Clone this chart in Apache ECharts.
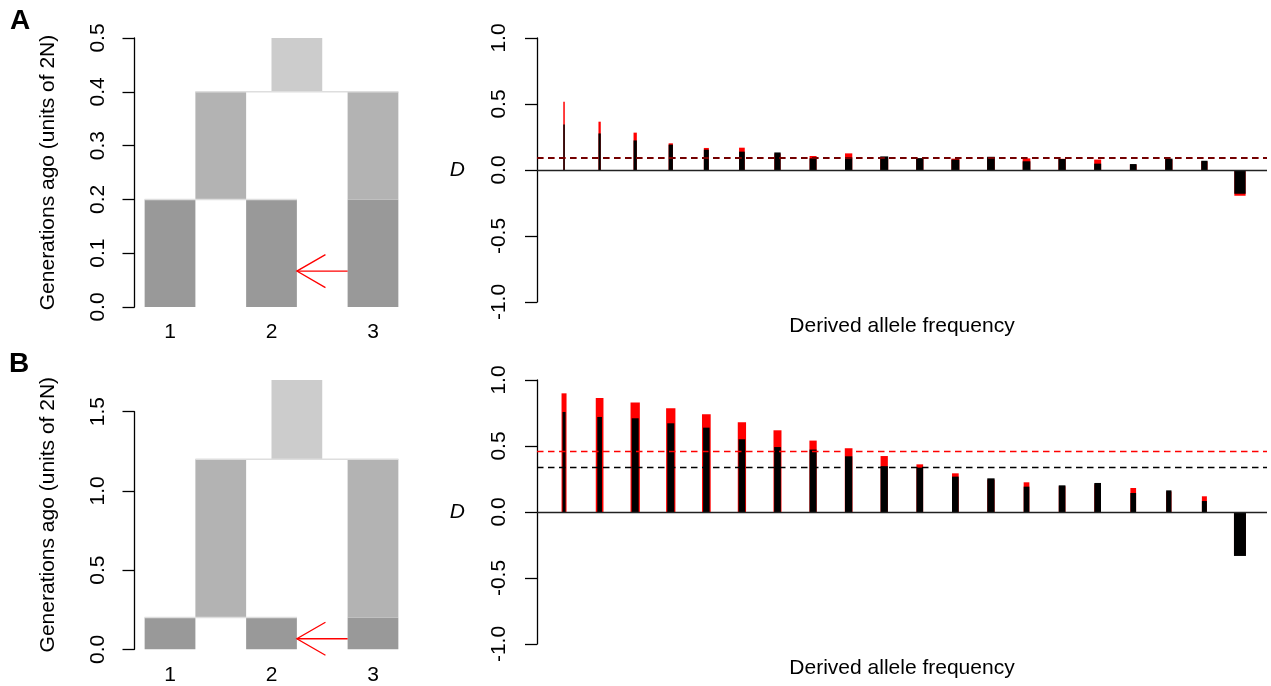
<!DOCTYPE html>
<html>
<head>
<meta charset="utf-8">
<title>D by derived allele frequency under two admixture scenarios</title>
<script src="https://cdn.jsdelivr.net/npm/echarts@6/dist/echarts.min.js"></script>
<style>
  html, body { margin: 0; padding: 0; background: #fff; }
  #chart { width: 1271px; height: 686px; }
</style>
</head>
<body>
<div id="chart"></div>
<script>
// ---------------- data ----------------
// Sampled populations
const popLabels = ['1', '2', '3'];

// Scenario A: split times in units of 2N: (1,2) split, ((1,2),3) split, top of root
const splitTimesA = [0.2, 0.4];
const rootTopA = 0.5;
// admixture pulse from population 3 into population 2
const admixA = [0.0667, 3, 2];

// Scenario B
const splitTimesB = [0.2, 1.2];
const rootTopB = 1.7;
const admixB = [0.0667, 3, 2];

// Generation axis ticks
const genTicksA = [0, 0.1, 0.2, 0.3, 0.4, 0.5];
const genTicksB = [0, 0.5, 1.0, 1.5];

// D statistic per derived allele frequency bin
const freqBins = [1, 2, 3, 4, 5, 6, 7, 8, 9, 10, 11, 12, 13, 14, 15, 16, 17, 18, 19, 20];
const dTicks = [-1, -0.5, 0, 0.5, 1];

const dBlackA = [0.345, 0.277, 0.224, 0.192, 0.154, 0.139, 0.133, 0.088, 0.096, 0.103,
                 0.090, 0.079, 0.100, 0.066, 0.083, 0.048, 0.045, 0.086, 0.070, -0.180];
const dRedA   = [0.517, 0.366, 0.283, 0.202, 0.167, 0.169, 0.125, 0.106, 0.126, 0.095,
                 0.085, 0.086, 0.095, 0.088, 0.085, 0.079, 0.040, 0.080, 0.065, -0.195];
const meanBlackA = 0.085;
const meanRedA = 0.085;

const dBlackB = [0.758, 0.720, 0.710, 0.672, 0.639, 0.551, 0.492, 0.473, 0.422, 0.347,
                 0.336, 0.268, 0.255, 0.192, 0.202, 0.220, 0.144, 0.164, 0.083, -0.333];
const dRedB   = [0.899, 0.864, 0.829, 0.786, 0.740, 0.680, 0.619, 0.541, 0.483, 0.424,
                 0.361, 0.293, 0.245, 0.225, 0.195, 0.210, 0.182, 0.155, 0.119, -0.320];
const meanBlackB = 0.337;
const meanRedB = 0.460;

// ---------------- styling ----------------
const FONT = "'Liberation Sans', Arial, Helvetica, sans-serif";
const FS = 21;
const INK = '#000000';
const RED = '#ff0000';
const BOX_HALF = 0.25;                              // half width of a population box, x units
const EPOCH_FILL = ['#999999', '#b3b3b3', '#cccccc'];
const JOIN_EDGE = '#dedede';
const DASH = [6.5, 4.5];

// bar widths in pixels (line widths of the vertical bars)
const barPxBlackA = [1.5, 2.3, 3.3, 4.3, 5, 5.7, 6.3, 7, 7.3, 8, 7.3, 8, 7.7, 7.7, 7.3, 7, 6.7, 7.3, 6.3, 11.3];
const barPxRedA   = barPxBlackA;
const barPxBlackB = [3, 4.7, 7, 7, 6.5, 6.7, 6.7, 7, 7.3, 7.3, 6.7, 6.7, 7.3, 5.7, 6.7, 6.7, 5.7, 5.3, 5, 12];
const barPxRedB   = [5, 7.7, 9.3, 9.3, 8.7, 8.3, 8, 7.3, 7.7, 7.3, 6.7, 6.7, 7.3, 5.7, 6.7, 6.7, 5.7, 5.3, 5, 12];

// ---------------- model geometry helpers ----------------
// boxes: [x, tStart, tEnd, epoch]; ancestors sit midway between their children
function treeBoxes(splits, top) {
  const t12 = splits[0], t123 = splits[1];
  const anc12 = (1 + 2) / 2;
  const root = (anc12 + 3) / 2;
  return [
    [1, 0, t12, 0], [2, 0, t12, 0], [3, 0, t12, 0],
    [anc12, t12, t123, 1], [3, t12, t123, 1],
    [root, t123, top, 2]
  ];
}
// joins: [t, leftChildX, rightChildX]
function treeJoins(splits) {
  return [[splits[0], 1, 2], [splits[1], (1 + 2) / 2, 3]];
}

function renderBox(params, api) {
  const x = api.value(0), t0 = api.value(1), t1 = api.value(2), epoch = api.value(3);
  const a = api.coord([x - BOX_HALF, t1]);
  const b = api.coord([x + BOX_HALF, t0]);
  return {
    type: 'rect',
    shape: { x: a[0], y: a[1], width: b[0] - a[0], height: b[1] - a[1] },
    style: { fill: EPOCH_FILL[epoch] }
  };
}

function renderJoin(params, api) {
  const t = api.value(0);
  const a = api.coord([api.value(1) - BOX_HALF, t]);
  const b = api.coord([api.value(2) + BOX_HALF, t]);
  return {
    type: 'line',
    shape: { x1: a[0], y1: a[1], x2: b[0], y2: b[1] },
    style: { stroke: JOIN_EDGE, lineWidth: 1.5 }
  };
}

function renderArrow(params, api) {
  const t = api.value(0), from = api.value(1), to = api.value(2);
  const dir = from > to ? 1 : -1;
  const s = api.coord([from - dir * BOX_HALF, t]);
  const e = api.coord([to + dir * BOX_HALF, t]);
  const len = 33, ang = Math.PI / 6;
  const ux = s[0] - e[0] > 0 ? 1 : -1;
  const h1 = [e[0] + ux * len * Math.cos(ang), e[1] - len * Math.sin(ang)];
  const h2 = [e[0] + ux * len * Math.cos(ang), e[1] + len * Math.sin(ang)];
  const st = { stroke: RED, lineWidth: 1.3, fill: null };
  return {
    type: 'group',
    children: [
      { type: 'line', shape: { x1: s[0], y1: s[1], x2: e[0], y2: e[1] }, style: st },
      { type: 'polyline', shape: { points: [h1, e, h2] }, style: st }
    ]
  };
}

function barRenderer(widths, fill) {
  return function (params, api) {
    const x = api.value(0), d = api.value(1);
    const base = api.coord([x, 0]);
    const tip = api.coord([x, d]);
    const w = widths[params.dataIndex];
    return {
      type: 'rect',
      shape: { x: base[0] - w / 2, y: Math.min(base[1], tip[1]), width: w, height: Math.abs(tip[1] - base[1]) },
      style: { fill: fill }
    };
  };
}

function pairs(xs, ys) { return xs.map((x, i) => [x, ys[i]]); }
const fmt1 = v => Number(v).toFixed(1);

// ---------------- axes ----------------
const axisLineStyle = { color: INK, width: 1.3 };
const labelStyle = { color: INK, fontSize: FS, fontFamily: FONT };

function popXAxis(gridIndex) {
  return {
    gridIndex, type: 'value', min: 0.65, max: 3.35,
    axisLine: { show: false }, axisTick: { show: false }, splitLine: { show: false },
    axisLabel: Object.assign({ customValues: [1, 2, 3], margin: 15, formatter: v => popLabels[Math.round(v) - 1] }, labelStyle)
  };
}
function freqXAxis(gridIndex) {
  return {
    gridIndex, type: 'value', min: 0.24, max: 20.76,
    name: 'Derived allele frequency', nameLocation: 'middle', nameGap: 14,
    nameTextStyle: labelStyle,
    axisLine: { show: false }, axisTick: { show: false }, splitLine: { show: false }, axisLabel: { show: false }
  };
}
function genYAxis(gridIndex, ticks, withName) {
  return {
    gridIndex, type: 'value', min: ticks[0], max: ticks[ticks.length - 1],
    name: withName ? 'Generations ago (units of 2N)' : '',
    nameLocation: 'middle', nameGap: 76, nameTextStyle: labelStyle,
    axisLine: { show: true, lineStyle: axisLineStyle },
    axisTick: { show: true, length: 12, lineStyle: axisLineStyle, customValues: ticks },
    axisLabel: Object.assign({ rotate: 90, margin: 26, customValues: ticks, formatter: fmt1 }, labelStyle),
    splitLine: { show: false }
  };
}
function dYAxis(gridIndex) {
  return {
    gridIndex, type: 'value', min: dTicks[0], max: dTicks[dTicks.length - 1],
    name: 'D', nameLocation: 'middle', nameRotate: 0, nameGap: 72,
    nameTextStyle: Object.assign({ fontStyle: 'italic' }, labelStyle),
    axisLine: { show: true, onZero: false, lineStyle: axisLineStyle },
    axisTick: { show: true, length: 12, lineStyle: axisLineStyle, customValues: dTicks },
    axisLabel: Object.assign({ rotate: 90, margin: 27, customValues: dTicks, formatter: fmt1 }, labelStyle),
    splitLine: { show: false }
  };
}

// ---------------- series ----------------
function treeSeries(axisIndex, splits, top, admix) {
  return [
    { type: 'custom', xAxisIndex: axisIndex, yAxisIndex: axisIndex, silent: true, clip: false, z: 2,
      data: treeBoxes(splits, top), renderItem: renderBox },
    { type: 'custom', xAxisIndex: axisIndex, yAxisIndex: axisIndex, silent: true, clip: false, z: 3,
      data: treeJoins(splits), renderItem: renderJoin },
    { type: 'custom', xAxisIndex: axisIndex, yAxisIndex: axisIndex, silent: true, clip: false, z: 4,
      data: [admix], renderItem: renderArrow }
  ];
}

function dSeries(axisIndex, black, red, pxBlack, pxRed, meanBlack, meanRed) {
  // where both genome-wide means coincide, the black dash is see-through so the pair reads as one dark line
  const overlap = Math.abs(meanBlack - meanRed) < 0.01;
  const blackMeanOpacity = overlap ? 0.55 : 1;
  const dashWidth = overlap ? 1.8 : 1.4;
  const ml = (value, color, type, opacity) => ({
    yAxis: value, lineStyle: { color, width: type === 'solid' ? 1.3 : dashWidth, type, opacity: opacity == null ? 1 : opacity }
  });
  return [
    { type: 'custom', xAxisIndex: axisIndex, yAxisIndex: axisIndex, silent: true, z: 2,
      data: pairs(freqBins, red), renderItem: barRenderer(pxRed, RED),
      markLine: { silent: true, symbol: 'none', label: { show: false }, animation: false,
                  data: [ml(meanRed, RED, DASH)] } },
    { type: 'custom', xAxisIndex: axisIndex, yAxisIndex: axisIndex, silent: true, z: 3,
      data: pairs(freqBins, black), renderItem: barRenderer(pxBlack, INK),
      markLine: { silent: true, symbol: 'none', label: { show: false }, animation: false,
                  data: [ml(meanBlack, INK, DASH, blackMeanOpacity), ml(0, '#222222', 'solid')] } }
  ];
}

const option = {
  animation: false,
  backgroundColor: '#ffffff',
  textStyle: { fontFamily: FONT, color: INK },
  grid: [
    { left: 134.5, top: 38, width: 274, height: 269, outerBoundsMode: 'none' },
    { left: 537, top: 38, width: 730, height: 264, outerBoundsMode: 'none' },
    { left: 134.5, top: 411.7, width: 274, height: 237.6, outerBoundsMode: 'none' },
    { left: 537, top: 380, width: 730, height: 264, outerBoundsMode: 'none' },
    { left: 134.5, top: 380, width: 274, height: 269.3, outerBoundsMode: 'none' }
  ],
  xAxis: [
    popXAxis(0), freqXAxis(1), popXAxis(2), freqXAxis(3),
    { gridIndex: 4, type: 'value', min: 0, max: 1, show: false }
  ],
  yAxis: [
    genYAxis(0, genTicksA, true), dYAxis(1), genYAxis(2, genTicksB, false), dYAxis(3),
    { gridIndex: 4, type: 'value', min: 0, max: rootTopB,
      name: 'Generations ago (units of 2N)', nameLocation: 'middle', nameGap: 76, nameTextStyle: labelStyle,
      axisLine: { show: false }, axisTick: { show: false }, axisLabel: { show: false }, splitLine: { show: false } }
  ],
  series: [].concat(
    treeSeries(0, splitTimesA, rootTopA, admixA),
    dSeries(1, dBlackA, dRedA, barPxBlackA, barPxRedA, meanBlackA, meanRedA),
    treeSeries(2, splitTimesB, rootTopB, admixB),
    dSeries(3, dBlackB, dRedB, barPxBlackB, barPxRedB, meanBlackB, meanRedB)
  ),
  graphic: [
    { type: 'text', left: 10, top: 7, style: { text: 'A', font: "bold 28px " + FONT, fill: INK } },
    { type: 'text', left: 9, top: 350, style: { text: 'B', font: "bold 28px " + FONT, fill: INK } }
  ]
};

const chart = echarts.init(document.getElementById('chart'), null, { renderer: 'canvas' });
chart.setOption(option);
</script>
</body>
</html>
